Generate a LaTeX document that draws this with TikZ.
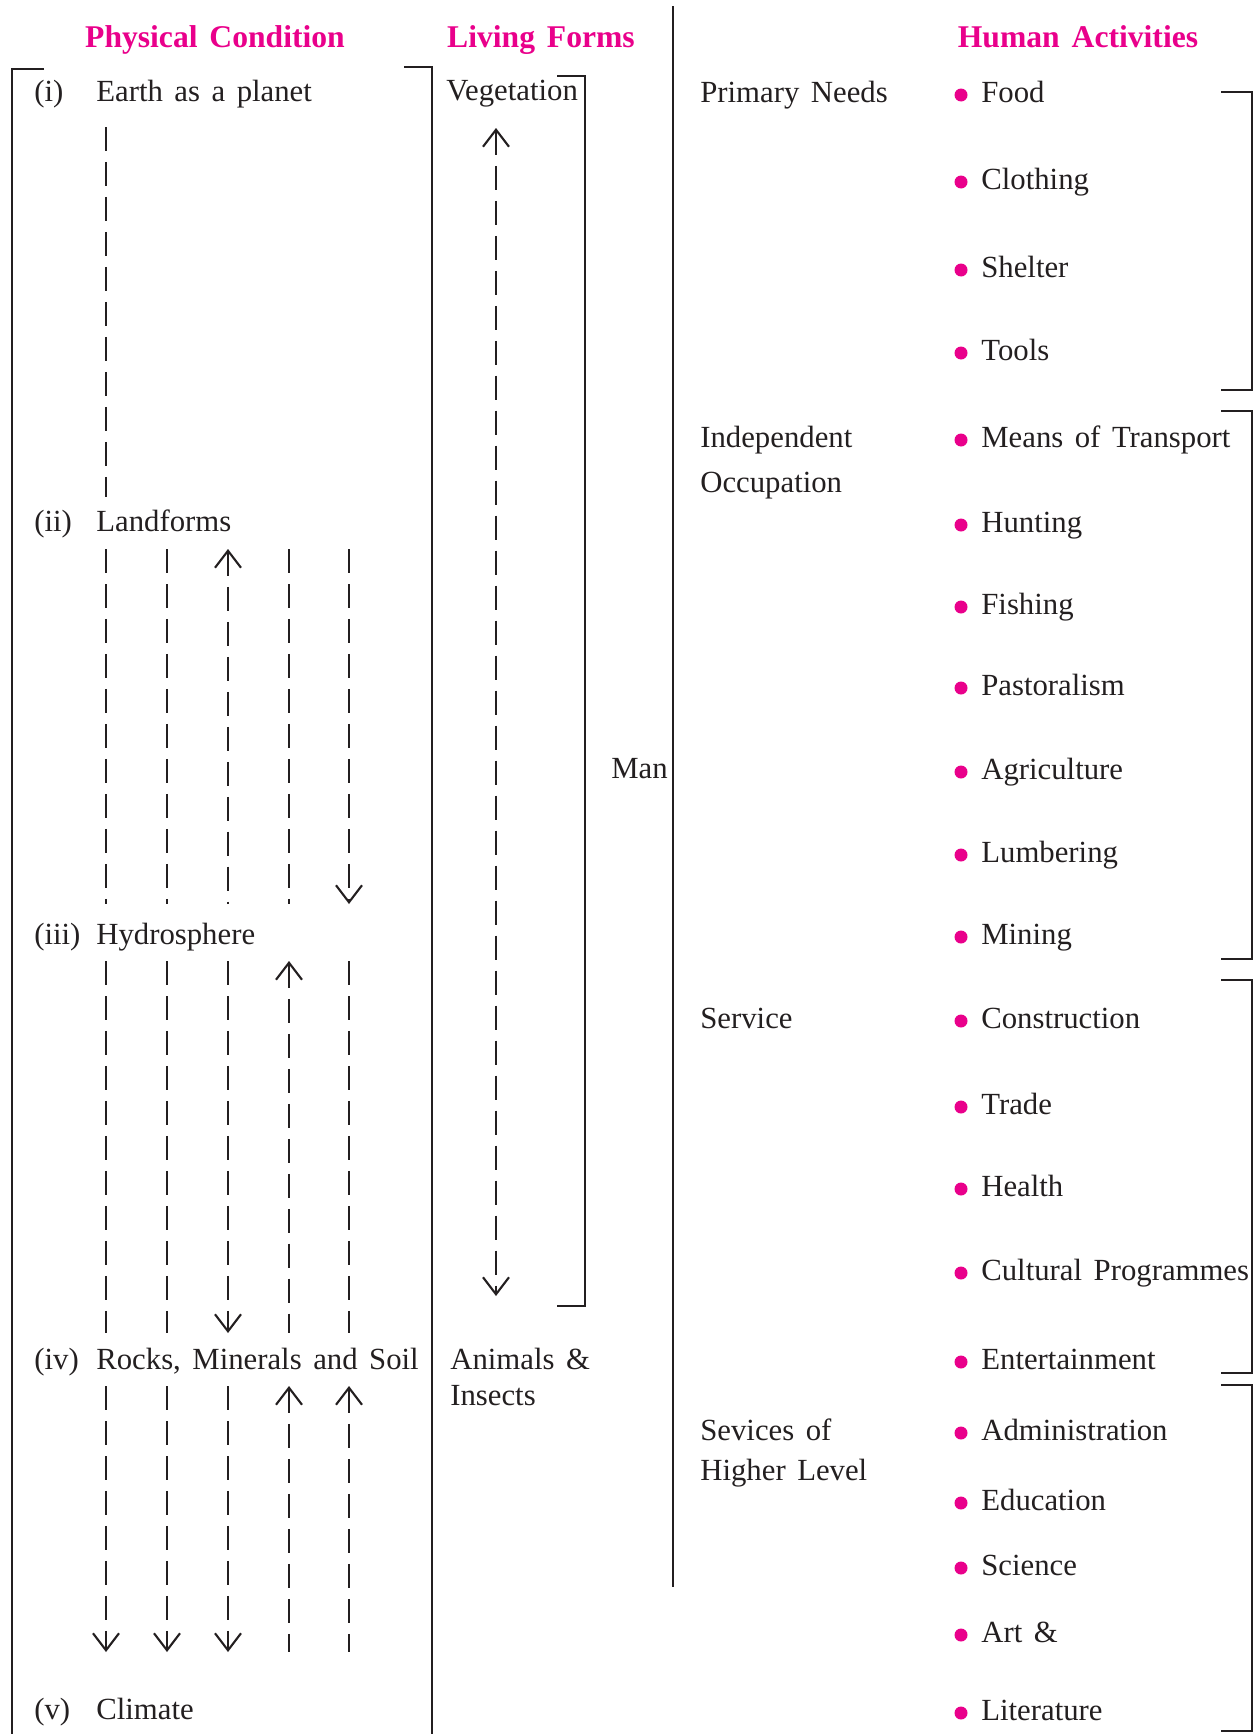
\documentclass[tikz,border=0pt]{standalone}
\usepackage{fontspec}
\setmainfont{Liberation Serif}[WordSpace=1.5]
\usepackage{xcolor}
\usetikzlibrary{arrows.meta,positioning,calc}
\definecolor{headpink}{RGB}{233,0,139}
\definecolor{ink}{RGB}{35,31,32}
\tikzset{
  txt/.style={font=\fontsize{17.5}{20}\selectfont, text=ink, inner sep=0pt, anchor=base west, yshift=-4pt},
  head/.style={font=\fontsize{18}{20}\selectfont\bfseries, text=headpink, inner sep=0pt, anchor=base, yshift=-5pt},
  dot/.style={circle, fill=headpink, inner sep=0pt, minimum size=2.6mm},
  frame/.style={draw=ink, line width=1.3pt},
  dashln/.style={draw=ink, line width=1.2pt, dash pattern=on 4.8mm off 2.2mm},
  >={Straight Barb[length=3.4mm,width=5.2mm]},
  aup/.style={<-},
  adn/.style={->},
  abt/.style={<->},
  ano/.style={}
}

\begin{document}
\begin{tikzpicture}[x=0.02cm, y=-0.02cm]
    \useasboundingbox (0,0) rectangle (1256,1734);
    % headings
    \node[head] (hpc) at (215,39) {Physical Condition};
    \node[head] (hlf) at (541,39) {Living Forms};
    \node[head] (hha) at (1078,39) {Human Activities};
    % physical conditions
    \foreach \nm/\num/\lab/\y in {pi/(i)/Earth as a planet/94, pii/(ii)/Landforms/524,
        piii/(iii)/Hydrosphere/937, piv/(iv)/{Rocks, Minerals and Soil}/1362, pv/(v)/Climate/1712}{
      \node[txt] (\nm n) at (34,\y) {\num};
      \node[txt] (\nm) at (96,\y) {\lab};
    }
    \coordinate (t1-1) at (106,127);
    \coordinate (b1-1) at (106,497);
    \foreach \s/\ya/\yb in {2/549/904, 3/961/1333, 4/1386/1652}
      \foreach \c/\x in {1/106,2/167,3/228,4/289,5/349}{
        \coordinate (t\s-\c) at (\x,\ya);
        \coordinate (b\s-\c) at (\x,\yb);
      }
    \foreach \s/\c/\arr in {1/1/ano, 2/1/ano, 2/2/ano, 2/3/aup, 2/4/ano, 2/5/adn,
        3/1/ano, 3/2/ano, 3/3/adn, 3/4/aup, 3/5/ano,
        4/1/adn, 4/2/adn, 4/3/adn, 4/4/aup, 4/5/aup}
      \draw[dashln,\arr] (t\s-\c) -- (b\s-\c);
    % living forms
    \node[txt] (veg) at (446,93) {Vegetation};
    \node[txt] (ani) at (450,1362) {Animals \&};
    \node[txt] (ins) at (450,1398) {Insects};
    \node[txt] (man) at (611,771) {Man};
    \coordinate (vtop) at (496,128);
    \coordinate (vbot) at (496,1296);
    \draw[dashln,abt] (vtop) -- (vbot);
    % brackets
    \draw[frame] (44,69) -- (12,69) -- (12,1734);
    \draw[frame] (404,67) -- (432,67) -- (432,1734);
    \draw[frame] (557,76) -- (585,76) -- (585,1306) -- (557,1306);
    \draw[frame] (673,6) -- (673,1587);
    % human activities
    \node[txt] (prim) at (700,95) {Primary Needs};
    \node[txt] (ind) at (700,440) {Independent};
    \node[txt] (occ) at (700,485) {Occupation};
    \node[txt] (serv) at (700,1021) {Service};
    \node[txt] (sev) at (700,1433) {Sevices of};
    \node[txt] (hig) at (700,1473) {Higher Level};
    \foreach \nm/\lab/\y in {food/Food/95, cloth/Clothing/182, shel/Shelter/270, tool/Tools/353,
        trans/Means of Transport/440, hunt/Hunting/525, fish/Fishing/607, past/Pastoralism/688,
        agri/Agriculture/772, lumb/Lumbering/855, mine/Mining/937, cons/Construction/1021,
        trade/Trade/1107, hlth/Health/1189, cult/Cultural Programmes/1273, ent/Entertainment/1362,
        adm/Administration/1433, edu/Education/1503, sci/Science/1568, art/Art \&/1635, lit/Literature/1713}{
      \node[dot] (\nm d) at (961,\y) {};
      \node[txt] (\nm) at (981,\y) {\lab};
    }
    \foreach \ya/\yb in {92/390, 411/959, 980/1373, 1385/1731}
      \draw[frame] (1221,\ya) -- (1252,\ya) -- (1252,\yb) -- (1221,\yb);
\end{tikzpicture}
\end{document}
